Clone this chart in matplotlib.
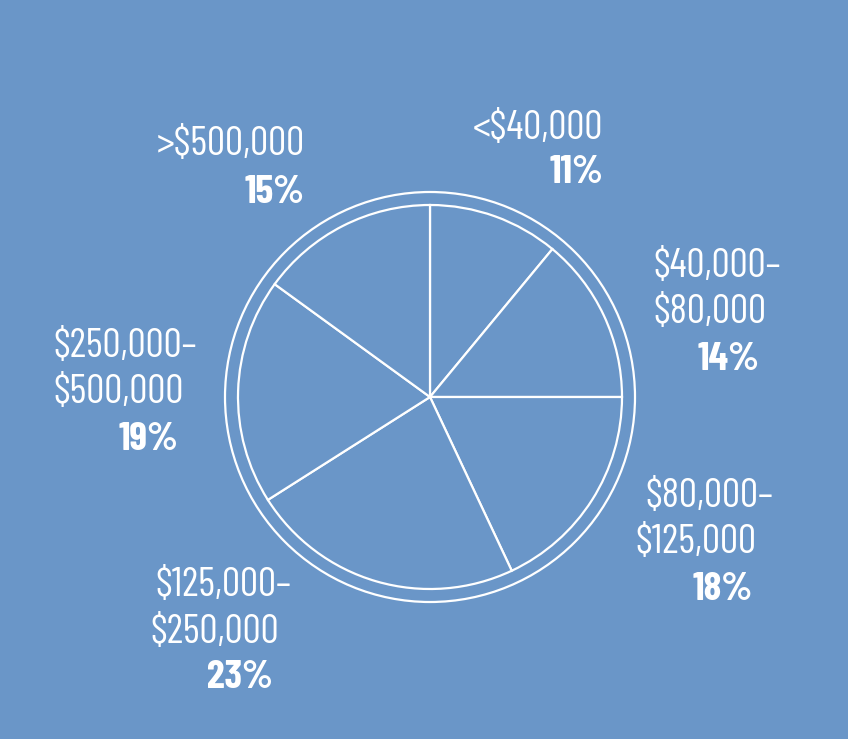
import matplotlib.pyplot as plt
from matplotlib.patches import Circle

# income bracket shares, clockwise from the top
brackets = ['<$40,000', '$40,000–\n$80,000', '$80,000–\n$125,000',
            '$125,000–\n$250,000', '$250,000–\n$500,000', '>$500,000']
shares = [11, 14, 18, 23, 19, 15]

bg = '#6a96c8'
W, H = 848, 739
cx, cy = 430, H - 397

fig = plt.figure(figsize=(W / 100, H / 100), dpi=100, facecolor=bg)
ax = fig.add_axes([0, 0, 1, 1])
ax.set_facecolor(bg)

ax.pie(shares, center=(cx, cy), radius=192, startangle=90, counterclock=False,
       colors=[bg] * len(shares),
       wedgeprops=dict(edgecolor='white', linewidth=1.6))
ax.add_patch(Circle((cx, cy), 205, fill=False, edgecolor='white', linewidth=1.6))
ax.set_xlim(0, W)
ax.set_ylim(0, H)
ax.set_aspect('equal')
ax.axis('off')

fam = ['Barlow Condensed', 'DejaVu Sans']
fs = 29

# label lines (x, baseline, ha) and percentage (right x, baseline), pixels from top
layout = {
    0: ([(603, 139, 'right')], (603, 183)),
    1: ([(653, 277, 'left'), (653, 323, 'left')], (759, 370)),
    2: ([(645, 507, 'left'), (635, 553, 'left')], (753, 600)),
    3: ([(155, 596, 'left'), (150, 643, 'left')], (273, 688)),
    4: ([(53, 357, 'left'), (53, 403, 'left')], (178, 450)),
    5: ([(305, 155, 'right')], (304, 203)),
}

for i, (lab, val) in enumerate(zip(brackets, shares)):
    lines, pct = layout[i]
    for txt, (x, y, ha) in zip(lab.split('\n'), lines):
        ax.text(x, H - y, txt, ha=ha, va='baseline', color='white',
                fontsize=fs, fontweight='normal', family=fam)
    ax.text(pct[0], H - pct[1], f'{val}%', ha='right', va='baseline',
            color='white', fontsize=fs, fontweight='bold', family=fam)

fig.savefig('out.png', dpi=100, facecolor=bg)
